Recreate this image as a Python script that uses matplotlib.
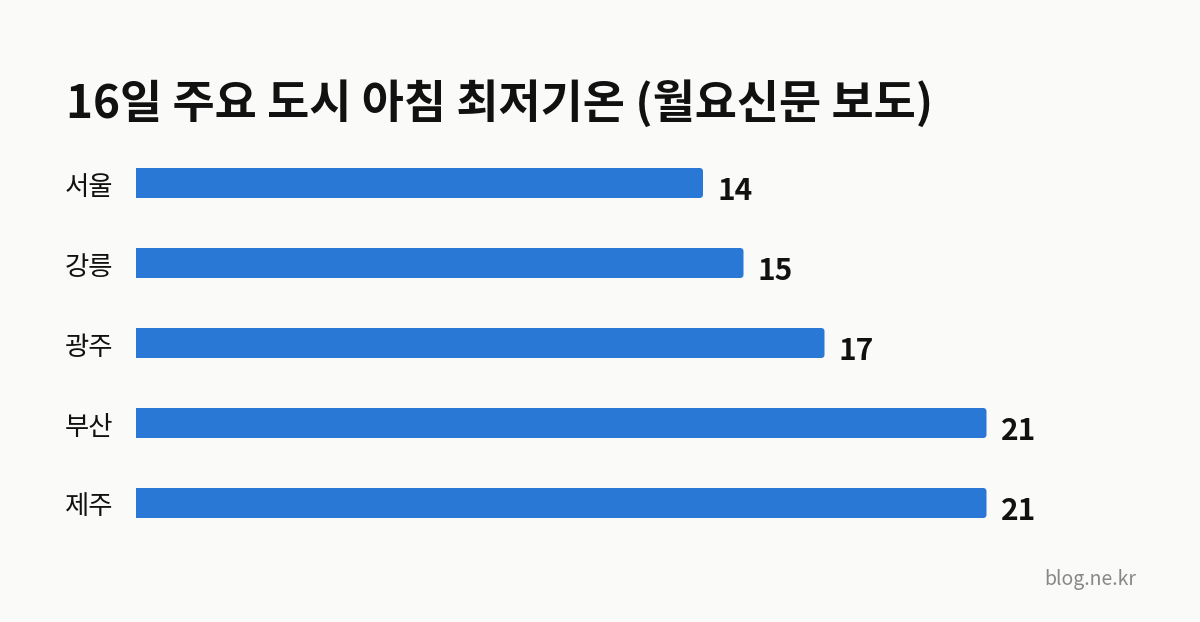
import matplotlib
matplotlib.use("Agg")
import matplotlib.pyplot as plt
from matplotlib.patches import FancyBboxPatch, Rectangle
import matplotlib.transforms as mtransforms

plt.rcParams['font.family'] = ['Noto Sans CJK KR', 'DejaVu Sans']

title = "16일 주요 도시 아침 최저기온 (월요신문 보도)"
cities = ["서울", "강릉", "광주", "부산", "제주"]
temps = [14, 15, 17, 21, 21]
source = "blog.ne.kr"

BG = "#FAFAF8"
BAR = "#2A78D6"

W, H = 1200, 622
fig = plt.figure(figsize=(W / 100, H / 100), dpi=100, facecolor=BG)

left_px = 136
px_per_unit = 40.5
ax = fig.add_axes([left_px / W, 0, 1 - left_px / W, 1])
ax.set_facecolor(BG)
ax.set_xlim(0, (W - left_px) / px_per_unit)
row_px = 80
first_center = 183
ax.set_ylim((H - first_center) / row_px, -first_center / row_px)
ax.axis('off')

bar_h = 30 / row_px
r_x = 3.5 / px_per_unit
aspect = px_per_unit / row_px
for i, (c, v) in enumerate(zip(cities, temps)):
    y0 = i - bar_h / 2
    p = FancyBboxPatch((0, y0), v, bar_h,
                       boxstyle=f"round,pad=0,rounding_size={r_x}",
                       mutation_aspect=aspect, fc=BAR, ec='none')
    ax.add_patch(p)
    ax.add_patch(Rectangle((0, y0), v / 2, bar_h, fc=BAR, ec='none'))
    ax.text(v + 14 / px_per_unit, i + 8 / row_px, str(v), ha='left', va='center',
            fontsize=21.5, fontweight='bold', color='#111111')

trans = mtransforms.blended_transform_factory(fig.transFigure, ax.transData)
for i, c in enumerate(cities):
    ax.text(65 / W, i + 4 / row_px, c, transform=trans, ha='left', va='center',
            fontsize=19, fontweight='medium', color='#111111')

fig.text(66 / W, 1 - 118 / H, title, ha='left', va='baseline',
         fontsize=33, fontweight='bold', color='#111111')

fig.text(1136 / W, 1 - 580 / H, source, ha='right', va='center',
         fontsize=14, color='#888888')

fig.savefig("out.png", dpi=100, facecolor=BG)
